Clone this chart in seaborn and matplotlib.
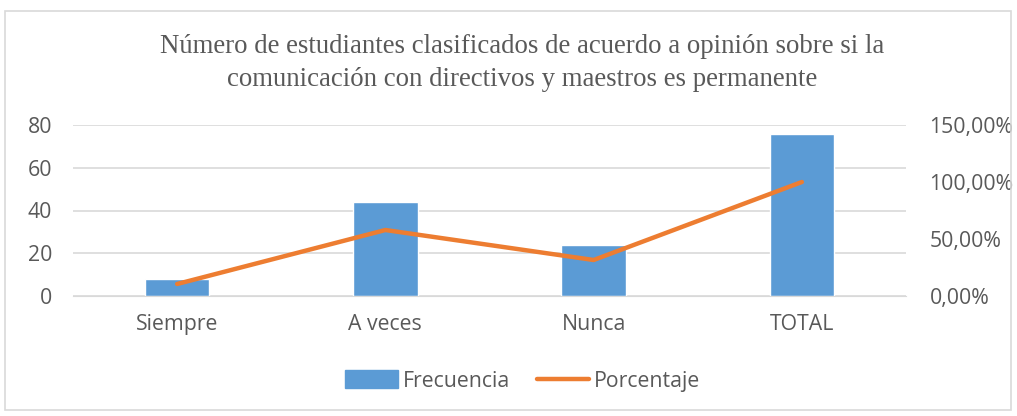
import matplotlib
matplotlib.use("Agg")
import matplotlib.pyplot as plt
import seaborn as sns
import pandas as pd
from matplotlib.patches import Rectangle, Patch
from matplotlib.lines import Line2D
from matplotlib.ticker import FuncFormatter

categories = ["Siempre", "A veces", "Nunca", "TOTAL"]
frecuencia = [8, 44, 24, 76]
porcentaje = [10.53, 57.89, 31.58, 100.0]

title = ("Número de estudiantes clasificados de acuerdo a opinión sobre si la\n"
         "comunicación con directivos y maestros es permanente")

BAR = "#5B9BD5"
LINE = "#ED7D31"
TXT = "#595959"
GRID = "#D9D9D9"
FS = 15.3

sns.set_style("white")
plt.rcParams['font.family'] = ['Open Sans', 'DejaVu Sans']

df = pd.DataFrame({"cat": categories, "freq": frecuencia, "pct": porcentaje})

W, H = 1017, 416
fig = plt.figure(figsize=(W / 100, H / 100), dpi=100)
ax = fig.add_axes([73 / W, 1 - 296 / H, (906 - 73) / W, (296 - 125) / H])

sns.barplot(data=df, x="cat", y="freq", color=BAR, width=0.31, ax=ax,
            saturation=1, zorder=2)
ax.set_ylim(0, 80)
ax.set_xlim(-0.5, 3.5)
ax.set_yticks([0, 20, 40, 60, 80])
ax.yaxis.grid(True, color=GRID, lw=1.2, zorder=0)
ax.set_axisbelow(True)
for s in ax.spines.values():
    s.set_visible(False)
ax.spines['bottom'].set_visible(True)
ax.spines['bottom'].set_color(GRID)
ax.set_xlabel("")
ax.set_ylabel("")
ax.tick_params(axis='both', length=0, labelsize=FS, colors=TXT)
ax.tick_params(axis='x', pad=13)
ax.tick_params(axis='y', pad=15)

ax2 = ax.twinx()
sns.pointplot(data=df, x="cat", y="pct", color=LINE, markers="", linestyles="-",
              linewidth=3.2, ax=ax2, errorbar=None)
ax2.set_ylim(0, 150)
ax2.set_xlim(-0.5, 3.5)
ax2.set_yticks([0, 50, 100, 150])
ax2.yaxis.set_major_formatter(FuncFormatter(lambda v, p: f"{v:.2f}%".replace(".", ",")))
for s in ax2.spines.values():
    s.set_visible(False)
ax2.set_ylabel("")
ax2.set_xlabel("")
ax2.tick_params(axis='y', length=0, labelsize=FS, colors=TXT, pad=17)
for l in ax2.lines:
    l.set_solid_capstyle('round')

fig.text(522 / W, 1 - 63 / H, title, ha='center', va='center',
         fontsize=19.3, color=TXT, family=['Liberation Serif'], linespacing=1.45)

handles = [Patch(facecolor=BAR, edgecolor=BAR),
           Line2D([0], [0], color=LINE, lw=3.2, solid_capstyle='round')]
fig.legend(handles, ["Frecuencia", "Porcentaje"], loc='center',
           bbox_to_anchor=(523 / W, 1 - 381 / H), ncol=2, frameon=False,
           fontsize=FS, labelcolor=TXT, handlelength=2.45, handletextpad=0.23,
           columnspacing=1.3, handleheight=0.9)

fig.patches.append(Rectangle((5 / W, 6 / H), (1011 - 5) / W, (409 - 10) / H,
                             transform=fig.transFigure, fill=False,
                             edgecolor="#D9D9D9", lw=1.2))

fig.savefig("out.png", dpi=100, facecolor="white")
